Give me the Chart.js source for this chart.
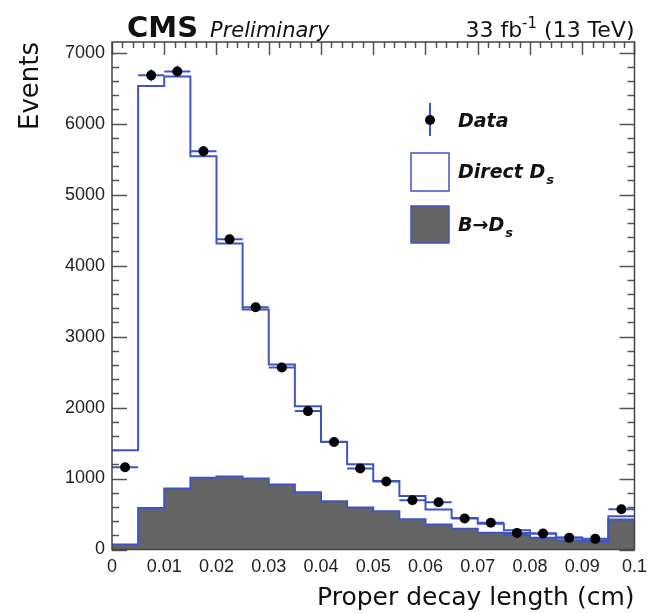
<!DOCTYPE html>
<html>
<head>
<meta charset="utf-8">
<script src="https://cdn.jsdelivr.net/npm/chart.js@4.4.0/dist/chart.umd.min.js"></script>
<style>
    html, body { margin: 0; padding: 0; background: #fff; }
    #wrap { width: 654px; height: 613px; }
</style>
</head>
<body>
<div id="wrap"><canvas id="decayChart" width="654" height="613"></canvas></div>
<script>
// lower edges of the 20 bins + the last upper edge (cm)
const binEdges = [0, 0.005, 0.01, 0.015, 0.02, 0.025, 0.03, 0.035, 0.04, 0.045, 0.05,
                  0.055, 0.06, 0.065, 0.07, 0.075, 0.08, 0.085, 0.09, 0.095, 0.1];
const dataCounts = [1160, 6680, 6735, 5610, 4370, 3413, 2563, 1950, 1515, 1141,
                    958, 694, 666, 437, 378, 234, 225, 164, 150, 568];
const directDs = [1328, 5944, 5804, 4528, 3282, 2380, 1691, 1211, 838, 611,
                  427, 330, 210, 151, 127, 66, 61, 38, 18, 46];
const bToDs = [72, 586, 861, 1012, 1028, 1000, 915, 807, 680, 590,
               539, 425, 353, 294, 235, 206, 164, 131, 113, 423];
const yTickValues = [0, 1000, 2000, 3000, 4000, 5000, 6000, 7000];
const xTickValues = [0, 0.01, 0.02, 0.03, 0.04, 0.05, 0.06, 0.07, 0.08, 0.09, 0.1];

const Y_MAX = 7150;
const BLUE = '#3f55c2';
const GREY = '#646464';
const TITLE_FONT = '"DejaVu Sans", sans-serif';
const TICK_FONT = '"Liberation Sans", Arial, sans-serif';

// stepped histogram points: one per lower edge, last value repeated at the upper edge
function toSteps(values) {
    return binEdges.map((x, i) => ({ x: x, y: values[Math.min(i, values.length - 1)] }));
}

const stackTotal = directDs.map((v, i) => v + bToDs[i]);
const dataPoints = dataCounts.map((v, i) => ({ x: (binEdges[i] + binEdges[i + 1]) / 2, y: v }));

// inner ticks (ROOT style) under the histograms
const innerTicks = {
    id: 'innerTicks',
    beforeDatasetsDraw(chart) {
        const { ctx, chartArea: a, scales: { x, y } } = chart;
        ctx.save();
        ctx.strokeStyle = '#555';
        ctx.lineWidth = 1.5;
        ctx.beginPath();
        for (let i = 0; i * 200 <= Y_MAX; i++) {
            const py = Math.round(y.getPixelForValue(i * 200)) + 0.5;
            const len = i % 5 === 0 ? 15 : 7;
            ctx.moveTo(a.left, py); ctx.lineTo(a.left + len, py);
            ctx.moveTo(a.right, py); ctx.lineTo(a.right - len, py);
        }
        for (let i = 0; i <= 50; i++) {
            const px = Math.round(x.getPixelForValue(i * 0.002)) + 0.5;
            const len = i % 5 === 0 ? 13 : 6;
            ctx.moveTo(px, a.top); ctx.lineTo(px, a.top + len);
        }
        ctx.stroke();
        ctx.restore();
    },
    beforeDatasetDraw(chart, args) {
        if (args.index !== 2) return;
        // error bars of the data points
        const { ctx, scales: { x, y } } = chart;
        ctx.save();
        ctx.strokeStyle = BLUE;
        ctx.lineWidth = 2;
        ctx.beginPath();
        dataCounts.forEach((v, i) => {
            const py = y.getPixelForValue(v);
            const cx = x.getPixelForValue(dataPoints[i].x);
            ctx.moveTo(x.getPixelForValue(binEdges[i]), py);
            ctx.lineTo(x.getPixelForValue(binEdges[i + 1]), py);
            const err = Math.sqrt(v);
            ctx.moveTo(cx, y.getPixelForValue(v + err));
            ctx.lineTo(cx, y.getPixelForValue(v - err));
        });
        ctx.stroke();
        ctx.restore();
    },
    afterDatasetsDraw(chart) {
        const { ctx, chartArea: a } = chart;
        ctx.save();
        ctx.strokeStyle = '#444';
        ctx.lineWidth = 1.5;
        ctx.strokeRect(a.left, a.top, a.right - a.left, a.bottom - a.top);
        ctx.restore();
    }
};

function textWithIndex(ctx, base, idx, x, y, size, style, up) {
    ctx.font = `${style} ${size}px ${TITLE_FONT}`;
    ctx.fillText(base, x, y);
    const w = ctx.measureText(base).width;
    ctx.font = `${style} ${Math.round(size * 0.68)}px ${TITLE_FONT}`;
    ctx.fillText(idx, x + w + 1, y + (up ? -size * 0.38 : size * 0.3));
    return w + 1 + ctx.measureText(idx).width;
}

const labelsAndLegend = {
    id: 'labelsAndLegend',
    afterDraw(chart) {
        const { ctx } = chart;
        ctx.save();
        ctx.fillStyle = '#111';
        ctx.textBaseline = 'alphabetic';
        ctx.textAlign = 'left';
        ctx.font = `bold 29px ${TITLE_FONT}`;
        ctx.fillText('CMS', 127, 37);
        ctx.font = `italic 21px ${TITLE_FONT}`;
        ctx.fillText('Preliminary', 210, 37);

        // lumi label, right aligned to the frame
        ctx.font = `22px ${TITLE_FONT}`;
        const w1 = ctx.measureText('33 fb').width;
        const w3 = ctx.measureText(' (13 TeV)').width;
        ctx.font = `15px ${TITLE_FONT}`;
        const w2 = ctx.measureText('-1').width;
        let lx = chart.chartArea.right - (w1 + w2 + w3);
        ctx.font = `22px ${TITLE_FONT}`;
        ctx.fillText('33 fb', lx, 37);
        ctx.font = `15px ${TITLE_FONT}`;
        ctx.fillText('-1', lx + w1, 28);
        ctx.font = `22px ${TITLE_FONT}`;
        ctx.fillText(' (13 TeV)', lx + w1 + w2, 37);

        // legend
        ctx.strokeStyle = BLUE;
        ctx.lineWidth = 2;
        ctx.beginPath();
        ctx.moveTo(430, 103); ctx.lineTo(430, 136);
        ctx.stroke();
        ctx.fillStyle = '#000';
        ctx.beginPath();
        ctx.arc(430, 120, 5, 0, Math.PI * 2);
        ctx.fill();

        ctx.lineWidth = 1.5;
        ctx.fillStyle = '#fff';
        ctx.fillRect(411, 153, 38, 38);
        ctx.strokeRect(411, 153, 38, 38);
        ctx.fillStyle = GREY;
        ctx.fillRect(411, 206, 38, 37);
        ctx.strokeRect(411, 206, 38, 37);

        ctx.fillStyle = '#111';
        ctx.font = `italic bold 19px ${TITLE_FONT}`;
        ctx.fillText('Data', 458, 127);
        textWithIndex(ctx, 'Direct D', 's', 458, 178, 19, 'italic bold', false);
        textWithIndex(ctx, 'B\u2192D', 's', 458, 231, 19, 'italic bold', false);
        ctx.restore();
    }
};

const ctx = document.getElementById('decayChart').getContext('2d');
new Chart(ctx, {
    type: 'line',
    data: {
        datasets: [
            {
                label: 'B\u2192Ds',
                data: toSteps(bToDs),
                stepped: 'before',
                borderColor: BLUE,
                borderWidth: 2,
                backgroundColor: GREY,
                fill: 'origin',
                pointRadius: 0,
                order: 3
            },
            {
                label: 'Direct Ds',
                data: toSteps(stackTotal),
                stepped: 'before',
                borderColor: BLUE,
                borderWidth: 2,
                fill: false,
                pointRadius: 0,
                order: 2
            },
            {
                label: 'Data',
                data: dataPoints,
                showLine: false,
                pointRadius: 5,
                pointBackgroundColor: '#000',
                pointBorderWidth: 0,
                order: 1
            }
        ]
    },
    options: {
        responsive: false,
        animation: false,
        devicePixelRatio: 1,
        layout: { padding: { top: 42, right: 11, left: 0, bottom: 0 } },
        plugins: { legend: { display: false }, tooltip: { enabled: false } },
        scales: {
            x: {
                type: 'linear',
                min: 0,
                max: 0.1,
                afterFit: s => { s.height = 63.5; },
                afterBuildTicks: s => { s.ticks = xTickValues.map(v => ({ value: v })); },
                grid: { display: false, drawTicks: false },
                border: { display: false },
                ticks: {
                    padding: 7,
                    color: '#222',
                    font: { family: TICK_FONT, size: 18 },
                    maxRotation: 0,
                    callback: v => String(+v.toFixed(3))
                },
                title: {
                    display: true,
                    text: 'Proper decay length (cm)',
                    align: 'end',
                    color: '#111',
                    font: { family: TITLE_FONT, size: 25 },
                    padding: { top: 0, bottom: 0 }
                }
            },
            y: {
                min: 0,
                max: Y_MAX,
                afterFit: s => { s.width = 112; },
                afterBuildTicks: s => { s.ticks = yTickValues.map(v => ({ value: v })); },
                grid: { display: false, drawTicks: false },
                border: { display: false },
                ticks: {
                    padding: 7,
                    color: '#222',
                    font: { family: TICK_FONT, size: 18 },
                    callback: v => String(v)
                },
                title: {
                    display: true,
                    text: 'Events',
                    align: 'end',
                    color: '#111',
                    font: { family: TITLE_FONT, size: 26 },
                    padding: { top: 16, bottom: 0 }
                }
            }
        }
    },
    plugins: [innerTicks, labelsAndLegend]
});
</script>
</body>
</html>
